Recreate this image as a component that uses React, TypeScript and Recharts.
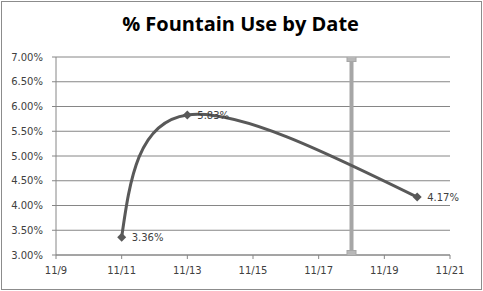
import { CartesianGrid, Line, LineChart, XAxis, YAxis } from "recharts";

// day of November for each reading
const dates = [11, 13, 20];
const usage = [3.36, 5.83, 4.17];

// vertical reference series at 11/18
const markerDate = 18;
const markerLevels = [3, 7];

const xTicks = [9, 11, 13, 15, 17, 19, 21];
const yTicks = [3, 3.5, 4, 4.5, 5, 5.5, 6, 6.5, 7];

const rows = dates.map((d, i) => ({ date: d, usage: usage[i] }));
const markerRows = markerLevels.map((v) => ({ date: markerDate, level: v }));

const tickStyle = { fontFamily: "DejaVu Sans", fontSize: 10, fill: "#404040" };

function Diamond(props: any) {
  const { cx, cy, index } = props;
  if (cx == null || cy == null) return null;
  const r = 4.5;
  return (
    <path
      key={`d-${index}`}
      d={`M${cx},${cy - r}L${cx + r},${cy}L${cx},${cy + r}L${cx - r},${cy}Z`}
      fill="#595959"
    />
  );
}

function Square(props: any) {
  const { cx, cy, index } = props;
  if (cx == null || cy == null) return null;
  return (
    <rect
      key={`s-${index}`}
      x={cx - 4.5}
      y={cy - 4.5}
      width={9}
      height={9}
      fill="#b8b8b8"
      stroke="#a6a6a6"
      strokeWidth={1}
    />
  );
}

function PctLabel(props: any) {
  const { x, y, value, index } = props;
  return (
    <text
      key={`l-${index}`}
      x={x + 10}
      y={y + 1}
      dominantBaseline="middle"
      style={{ fontFamily: "DejaVu Sans", fontSize: 10, fill: "#404040" }}
    >
      {Number(value).toFixed(2)}%
    </text>
  );
}

export default function App() {
  return (
    <div style={{ position: "absolute", left: 0, top: 0, width: 483, height: 291, background: "#fff" }}>
      <div
        style={{
          position: "absolute",
          left: 1,
          top: 1,
          width: 479,
          height: 287,
          border: "1px solid #8c8c8c",
        }}
      />
      <div
        style={{
          position: "absolute",
          left: 0,
          top: 11,
          width: 481,
          textAlign: "center",
          fontFamily: "Open Sans",
          fontWeight: 700,
          fontSize: 20,
          lineHeight: "26px",
          color: "#000",
        }}
      >
        % Fountain Use by Date
      </div>
      <LineChart
        width={483}
        height={291}
        data={rows}
        margin={{ top: 57, right: 33, bottom: 6, left: 5 }}
        style={{ position: "absolute", left: 0, top: 0 }}
      >
        <CartesianGrid vertical={false} stroke="#868686" strokeWidth={1} />
        <XAxis
          dataKey="date"
          type="number"
          domain={[9, 21]}
          ticks={xTicks}
          tickFormatter={(v) => `11/${v}`}
          height={30}
          tickSize={4}
          tickMargin={8}
          stroke="#868686"
          tick={tickStyle}
          allowDataOverflow
        />
        <YAxis
          type="number"
          domain={[3, 7]}
          ticks={yTicks}
          tickFormatter={(v) => `${Number(v).toFixed(2)}%`}
          width={51}
          tickSize={4}
          tickMargin={9}
          stroke="#868686"
          tick={tickStyle}
          allowDataOverflow
        />
        <Line
          data={markerRows}
          dataKey="level"
          type="linear"
          stroke="#a6a6a6"
          strokeWidth={4}
          dot={Square}
          activeDot={false}
          isAnimationActive={false}
        />
        <Line
          dataKey="usage"
          type="natural"
          stroke="#595959"
          strokeWidth={3}
          dot={Diamond}
          activeDot={false}
          label={PctLabel}
          isAnimationActive={false}
        />
      </LineChart>
    </div>
  );
}
